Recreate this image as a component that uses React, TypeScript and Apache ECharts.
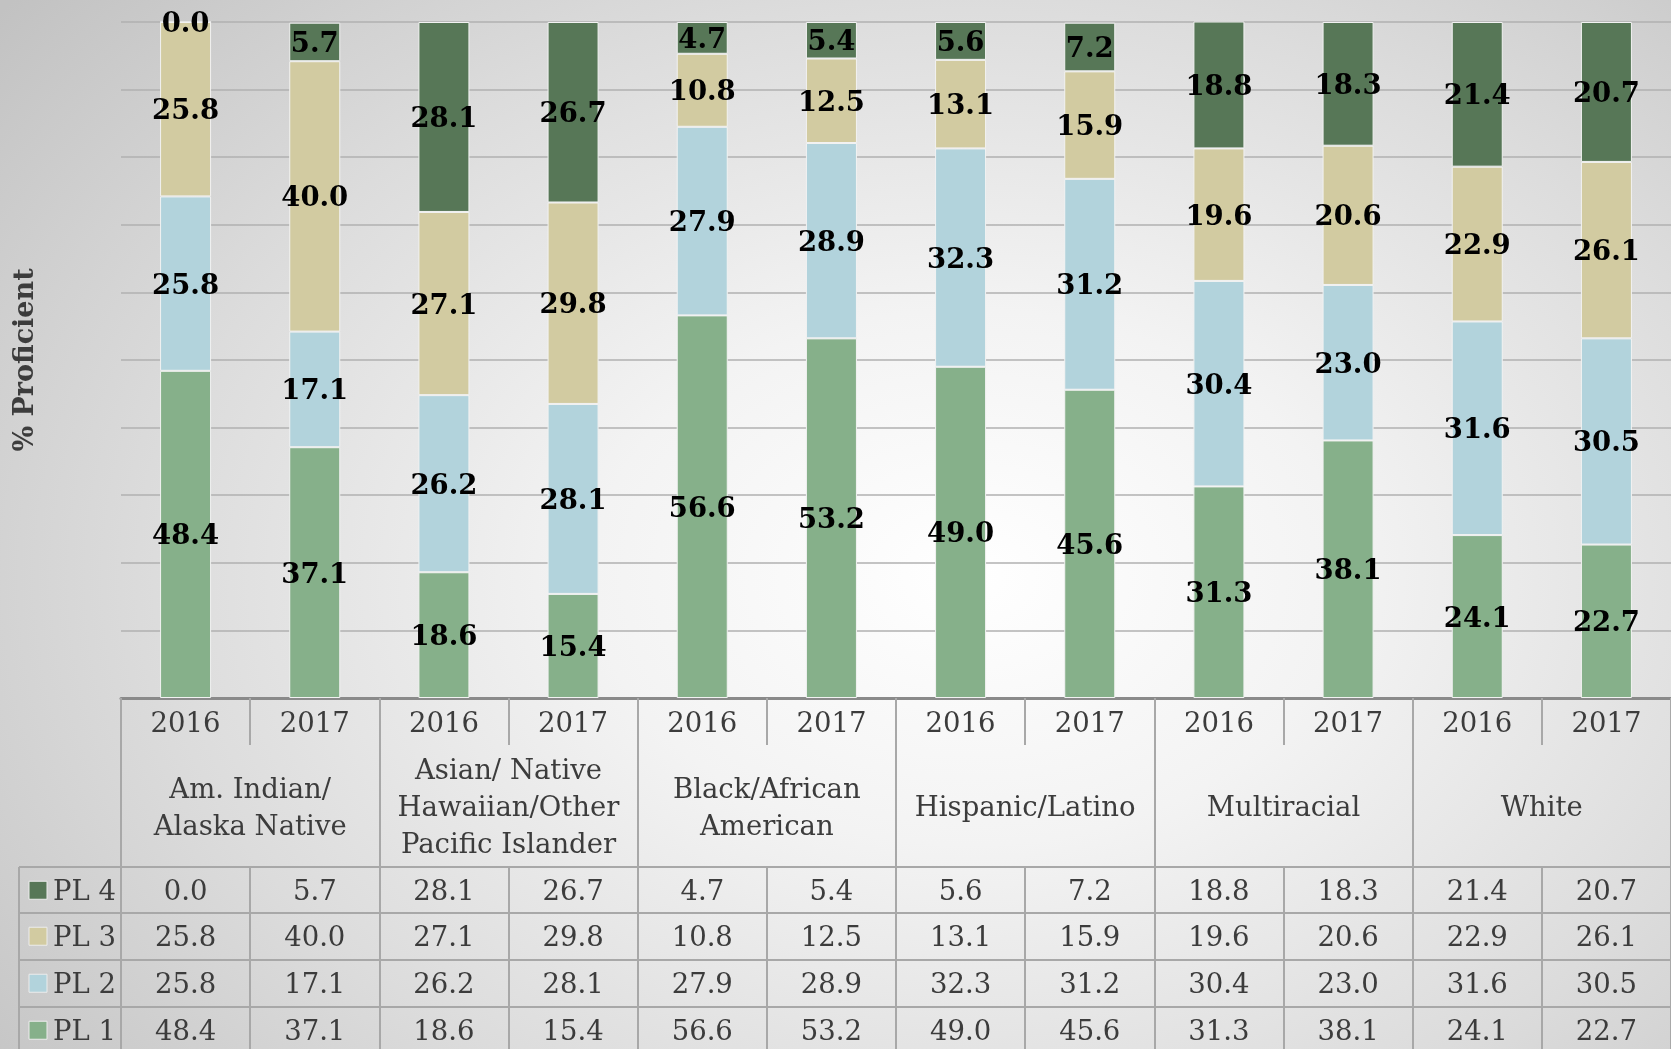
import React, { useEffect, useRef } from "react";
import * as echarts from "echarts";

const years = ["2016", "2017", "2016", "2017", "2016", "2017", "2016", "2017", "2016", "2017", "2016", "2017"];
const groups = [
  "Am. Indian/\nAlaska Native",
  "Asian/ Native\nHawaiian/Other\nPacific Islander",
  "Black/African\nAmerican",
  "Hispanic/Latino",
  "Multiracial",
  "White",
];
const pl1 = [48.4, 37.1, 18.6, 15.4, 56.6, 53.2, 49.0, 45.6, 31.3, 38.1, 24.1, 22.7];
const pl2 = [25.8, 17.1, 26.2, 28.1, 27.9, 28.9, 32.3, 31.2, 30.4, 23.0, 31.6, 30.5];
const pl3 = [25.8, 40.0, 27.1, 29.8, 10.8, 12.5, 13.1, 15.9, 19.6, 20.6, 22.9, 26.1];
const pl4 = [0.0, 5.7, 28.1, 26.7, 4.7, 5.4, 5.6, 7.2, 18.8, 18.3, 21.4, 20.7];
const seriesNames = ["PL 1", "PL 2", "PL 3", "PL 4"];
const seriesColors = ["#86b08a", "#b2d3dc", "#d2cba1", "#577757"];
const yTicks = { min: 0, max: 100, interval: 10 };

const W = 1671;
const H = 1049;
const FONT = "'DejaVu Serif', serif";
const LINE = "#a8a8a8";
const TEXT = "#3c3c3c";

export default function App() {
  const ref = useRef<HTMLDivElement>(null);
  useEffect(() => {
    if (!ref.current) return;
    const chart = echarts.init(ref.current, null, { renderer: "svg", width: W, height: H });

    const gridLeft = 121;
    const gridTop = 22;
    const gridBottomY = 698;
    const tableRowsTop = [867, 913, 960, 1007];
    const rowHeight = 46.5;

    // Table rows, top to bottom: PL 4, PL 3, PL 2, PL 1
    const rowData = [pl4, pl3, pl2, pl1];
    const rowNames = ["PL 4", "PL 3", "PL 2", "PL 1"];
    const rowColors = [seriesColors[3], seriesColors[2], seriesColors[1], seriesColors[0]];

    const idx = years.map((_, i) => String(i));

    const baseText = { fontFamily: FONT, color: TEXT, fontSize: 27.5 };

    const xAxes: any[] = [
      {
        type: "category",
        data: idx,
        position: "bottom",
        offset: 0,
        axisLine: { show: true, lineStyle: { color: "#8a8a8a", width: 3 } },
        axisTick: { show: true, length: 47, interval: 0, lineStyle: { color: LINE, width: 2 } },
        axisLabel: {
          interval: 0,
          margin: 24,
          verticalAlign: "middle",
          ...baseText,
          formatter: (_v: string, i: number) => years[i],
        },
        splitLine: { show: false },
      },
      {
        type: "category",
        data: groups.map((_, i) => "g" + i),
        position: "bottom",
        offset: 0,
        axisLine: { show: false },
        axisTick: { show: true, length: 169, interval: 0, lineStyle: { color: LINE, width: 2 } },
        axisLabel: {
          interval: 0,
          margin: 108,
          verticalAlign: "middle",
          lineHeight: 37,
          ...baseText,
          formatter: (_v: string, i: number) => groups[i],
        },
      },
    ];
    rowData.forEach((row, r) => {
      xAxes.push({
        type: "category",
        data: idx.map((s) => "r" + r + "_" + s),
        position: "bottom",
        offset: tableRowsTop[r] - gridBottomY,
        axisLine: { show: true, lineStyle: { color: LINE, width: 2 } },
        axisTick: { show: true, length: r === 3 ? 45 : 47, interval: 0, lineStyle: { color: LINE, width: 2 } },
        axisLabel: {
          interval: 0,
          margin: 23,
          verticalAlign: "middle",
          ...baseText,
          formatter: (_v: string, i: number) => row[i].toFixed(1),
        },
      });
    });

    const dataSeries = [pl1, pl2, pl3, pl4];

    const graphics: any[] = [];
    tableRowsTop.forEach((y) => {
      graphics.push({
        type: "line",
        shape: { x1: 19, y1: y, x2: gridLeft, y2: y },
        style: { stroke: LINE, lineWidth: 2 },
        silent: true,
      });
    });
    graphics.push({
      type: "line",
      shape: { x1: 19, y1: tableRowsTop[0], x2: 19, y2: H },
      style: { stroke: LINE, lineWidth: 2 },
      silent: true,
    });
    rowNames.forEach((name, r) => {
      const cy = tableRowsTop[r] + rowHeight / 2;
      graphics.push({
        type: "rect",
        shape: { x: 29, y: cy - 9, width: 18, height: 18 },
        style: { fill: rowColors[r], stroke: "#ececec", lineWidth: 1 },
        silent: true,
      });
      graphics.push({
        type: "text",
        x: 53,
        y: cy,
        style: {
          text: name,
          fontFamily: FONT,
          fontSize: 27.5,
          fill: TEXT,
          verticalAlign: "middle",
          align: "left",
        },
        silent: true,
      });
    });

    chart.setOption({
      animation: false,
      backgroundColor: "transparent",
      grid: {
        left: gridLeft,
        right: 0,
        top: gridTop,
        bottom: H - gridBottomY,
        containLabel: false,
        outerBoundsMode: "none",
      },
      xAxis: xAxes,
      yAxis: {
        type: "value",
        min: yTicks.min,
        max: yTicks.max,
        interval: yTicks.interval,
        axisLabel: { show: false },
        axisLine: { show: false },
        axisTick: { show: false },
        splitLine: { show: true, lineStyle: { color: "#b0b0b0", width: 1.5 } },
        name: "% Proficient",
        nameLocation: "middle",
        nameGap: 84,
        nameTextStyle: { fontFamily: FONT, fontWeight: "bold", fontSize: 27, color: TEXT },
      },
      series: dataSeries.map((d, s) => ({
        name: seriesNames[s],
        type: "bar",
        stack: "total",
        xAxisIndex: 0,
        barWidth: "39.5%",
        data: d,
        itemStyle: { color: seriesColors[s], borderColor: "#f2f2f2", borderWidth: 1 },
        label: {
          show: true,
          position: "inside",
          fontFamily: FONT,
          fontWeight: "bold",
          fontSize: 27.5,
          color: "#000",
          formatter: (p: any) => Number(p.value).toFixed(1),
        },
      })),
      graphic: graphics,
    });
    return () => chart.dispose();
  }, []);

  return (
    <div
      ref={ref}
      style={{
        position: "fixed",
        left: 0,
        top: 0,
        width: W,
        height: H,
        background:
          "radial-gradient(ellipse 75% 85% at 58% 55%, #ffffff 0%, #f3f3f3 30%, #dcdcdc 65%, #c2c2c2 100%)",
      }}
    />
  );
}
